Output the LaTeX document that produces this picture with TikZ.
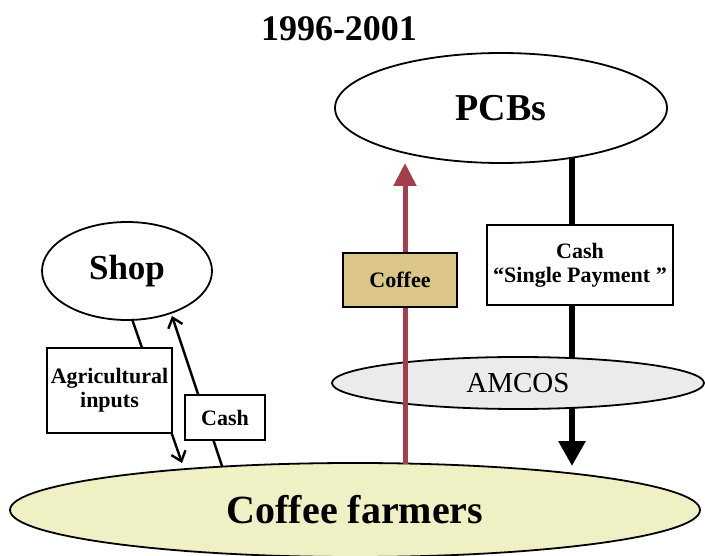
\documentclass[tikz,border=0pt]{standalone}
\usepackage{fontspec}
\setmainfont{Liberation Serif}
\usetikzlibrary{arrows.meta,shapes.geometric}
\definecolor{coffeered}{HTML}{A23F4B}
\definecolor{coffeebox}{HTML}{DBC688}
\definecolor{farmfill}{HTML}{EFF0C3}
\definecolor{amcosfill}{HTML}{EBEBEB}
\begin{document}
\begin{tikzpicture}[x=1pt,y=-1pt,
  oval/.style={ellipse, draw, line width=1.8pt, inner sep=0pt, outer sep=0pt},
  lbl/.style={draw, line width=1.8pt, rectangle, inner sep=0pt, fill=white,
    font=\bfseries\fontsize{22}{24}\selectfont, align=center},
  thinarrow/.style={line width=2.4pt, -{Straight Barb[length=9pt,width=15pt,line width=2.4pt]}}
]
\useasboundingbox (0,0) rectangle (705,556);

\node[font=\bfseries\fontsize{36}{40}\selectfont] (title) at (339,29) {1996-2001};

\node[oval, fill=white, minimum width=332pt, minimum height=110pt,
  font=\bfseries\fontsize{38}{42}\selectfont] (pcbs) at (501,108) {PCBs};
\node[oval, fill=white, minimum width=170pt, minimum height=98pt,
  font=\bfseries\fontsize{35}{38}\selectfont] (shop) at (127,271) {Shop};
\node[oval, fill=farmfill, minimum width=690pt, minimum height=94pt,
  font=\bfseries\fontsize{40}{44}\selectfont] (farmers) at (355,510) {Coffee farmers};

% connector end points on the borders
\coordinate (cashtop) at (572,158);
\coordinate (cashbot) at (572,466);
\coordinate (coffbot) at (405,464);
\coordinate (cofftop) at (405,163);
\coordinate (shopdownA) at (132,319);
\coordinate (shopdownB) at (182,463);
\coordinate (shopupA) at (222,466);
\coordinate (shopupB) at (172,316);

% cash from PCBs to farmers
\draw[line width=6pt, -{Triangle[width=26pt,length=25pt]}] (cashtop) -- (cashbot);

\node[oval, fill=amcosfill, minimum width=372pt, minimum height=52pt,
  font=\fontsize{29}{32}\selectfont] (amcos) at (518,383) {AMCOS};

% coffee from farmers to PCBs
\draw[coffeered, line width=5pt, -{Triangle[width=22pt,length=23pt]}] (coffbot) -- (cofftop);

% shop exchanges
\draw[thinarrow] (shopdownA) -- (shopdownB);
\draw[thinarrow] (shopupA) -- (shopupB);

\node[lbl, fill=coffeebox, minimum width=114pt, minimum height=54pt] (coffeelbl) at (400,280) {Coffee};
\node[lbl, minimum width=186pt, minimum height=80pt] (cashlbl) at (580,265) {Cash\\“Single Payment ”};
\node[lbl, minimum width=125pt, minimum height=85pt] (agrilbl) at (109.5,390.5) {Agricultural\\inputs};
\node[lbl, minimum width=80pt, minimum height=45pt] (shopcash) at (225,417.5) {Cash};
\end{tikzpicture}
\end{document}
